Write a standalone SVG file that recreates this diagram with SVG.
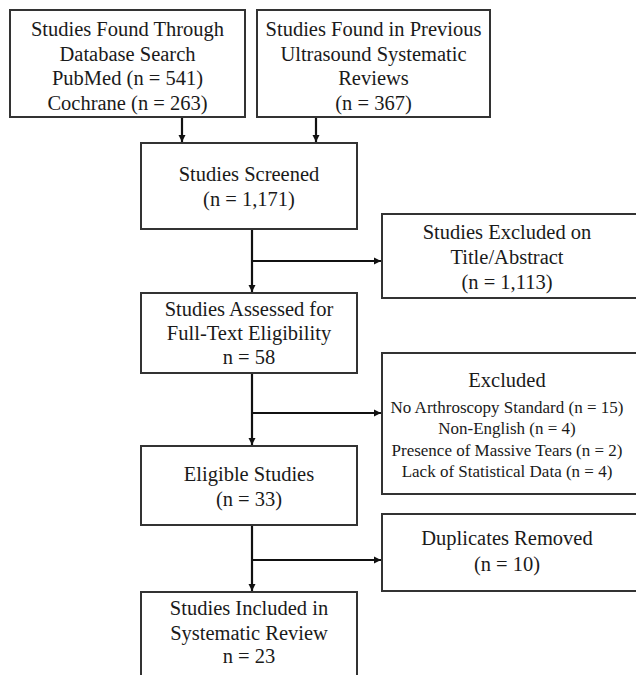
<svg xmlns="http://www.w3.org/2000/svg" width="636" height="675" viewBox="0 0 636 675">
<defs>
<marker id="ah" markerWidth="8" markerHeight="8" refX="7" refY="4" orient="auto" markerUnits="userSpaceOnUse">
<path d="M0,0.5 L7,4 L0,7.5 Z" fill="#111"/>
</marker>
<style>
.box{fill:#fff;stroke:#333;stroke-width:2}
.t{font-family:"Liberation Serif","Times New Roman",serif;font-size:20.5px;fill:#1a1a1a;text-anchor:middle}
.s{font-family:"Liberation Serif","Times New Roman",serif;font-size:17px;fill:#1a1a1a;text-anchor:middle}
.c{fill:none;stroke:#111;stroke-width:2.2}
</style>
</defs>
<rect width="636" height="675" fill="#fff"/>
<g id="database">
<rect class="box" x="10" y="10" width="235" height="107"/>
<text class="t" x="127.5" y="36">Studies Found Through</text>
<text class="t" x="127.5" y="61">Database Search</text>
<text class="t" x="127.5" y="85">PubMed (n = 541)</text>
<text class="t" x="127.5" y="110">Cochrane (n = 263)</text>
</g>
<g id="previous">
<rect class="box" x="257" y="10" width="233" height="107"/>
<text class="t" x="373.5" y="36">Studies Found in Previous</text>
<text class="t" x="373.5" y="61">Ultrasound Systematic</text>
<text class="t" x="373.5" y="85">Reviews</text>
<text class="t" x="373.5" y="110">(n = 367)</text>
</g>
<g id="screened">
<rect class="box" x="141" y="143" width="216" height="86"/>
<text class="t" x="249" y="181">Studies Screened</text>
<text class="t" x="249" y="206">(n = 1,171)</text>
</g>
<g id="excluded-title">
<rect class="box" x="382" y="214" width="260" height="84"/>
<text class="t" x="507" y="239">Studies Excluded on</text>
<text class="t" x="507" y="264">Title/Abstract</text>
<text class="t" x="507" y="289">(n = 1,113)</text>
</g>
<g id="assessed">
<rect class="box" x="141" y="293" width="216" height="80"/>
<text class="t" x="249" y="316">Studies Assessed for</text>
<text class="t" x="249" y="340">Full-Text Eligibility</text>
<text class="t" x="249" y="364">n = 58</text>
</g>
<g id="excluded">
<rect class="box" x="382" y="353" width="260" height="141"/>
<text class="t" x="507" y="387">Excluded</text>
<text class="s" x="507" y="413">No Arthroscopy Standard (n = 15)</text>
<text class="s" x="507" y="434">Non-English (n = 4)</text>
<text class="s" x="507" y="456">Presence of Massive Tears (n = 2)</text>
<text class="s" x="507" y="477">Lack of Statistical Data (n = 4)</text>
</g>
<g id="eligible">
<rect class="box" x="141" y="446" width="216" height="79"/>
<text class="t" x="249" y="481">Eligible Studies</text>
<text class="t" x="249" y="506">(n = 33)</text>
</g>
<g id="duplicates">
<rect class="box" x="382" y="514" width="260" height="77"/>
<text class="t" x="507" y="545">Duplicates Removed</text>
<text class="t" x="507" y="571">(n = 10)</text>
</g>
<g id="included">
<rect class="box" x="141" y="592" width="216" height="90"/>
<text class="t" x="249" y="615">Studies Included in</text>
<text class="t" x="249" y="640">Systematic Review</text>
<text class="t" x="249" y="663">n = 23</text>
</g>
<g id="connectors">
<line class="c" x1="182" y1="118" x2="182" y2="142" marker-end="url(#ah)"/>
<line class="c" x1="316" y1="118" x2="316" y2="142" marker-end="url(#ah)"/>
<line class="c" x1="252" y1="230" x2="252" y2="292" marker-end="url(#ah)"/>
<line class="c" x1="251" y1="261" x2="381" y2="261" marker-end="url(#ah)"/>
<line class="c" x1="252" y1="374" x2="252" y2="445" marker-end="url(#ah)"/>
<line class="c" x1="251" y1="413" x2="381" y2="413" marker-end="url(#ah)"/>
<line class="c" x1="252" y1="526" x2="252" y2="591" marker-end="url(#ah)"/>
<line class="c" x1="251" y1="560" x2="381" y2="560" marker-end="url(#ah)"/>
</g>
</svg>
